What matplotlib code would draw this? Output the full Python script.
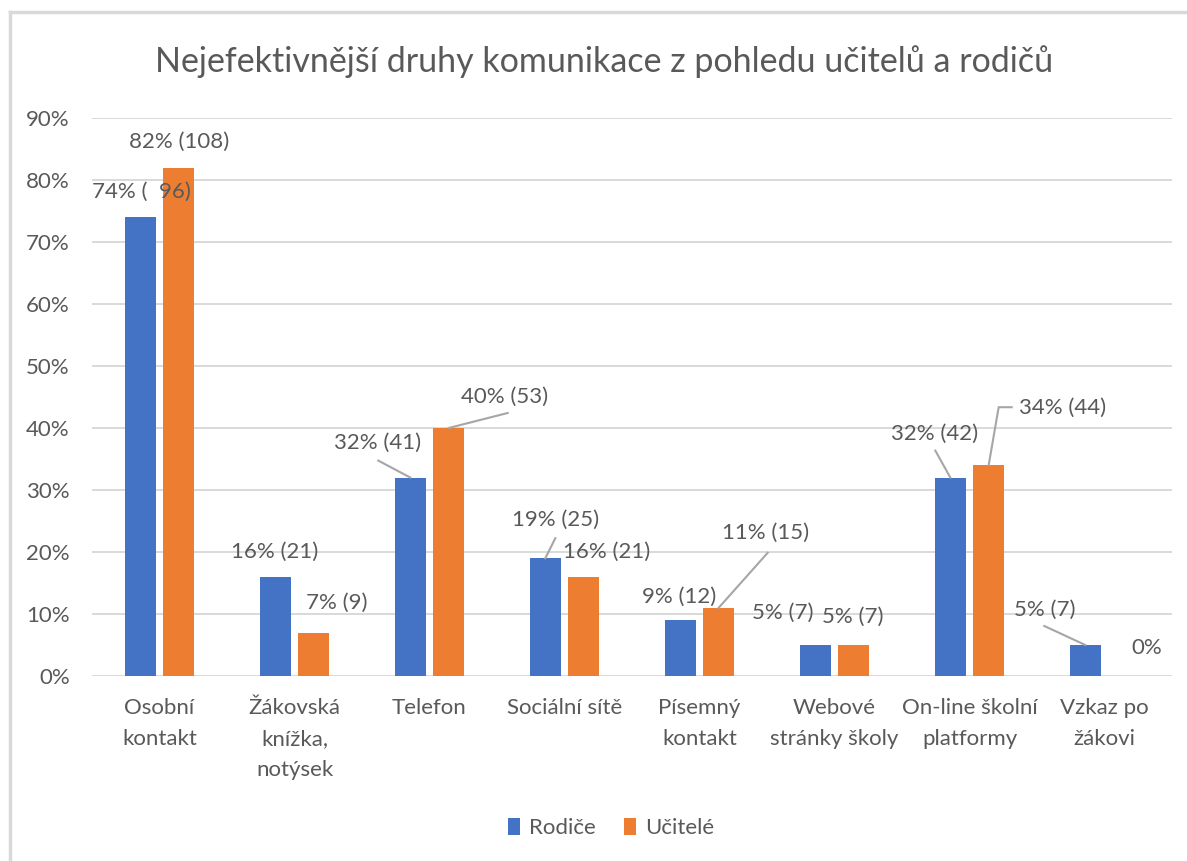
import matplotlib
matplotlib.use("Agg")
import matplotlib.pyplot as plt
import numpy as np
from matplotlib.lines import Line2D

plt.rcParams['font.family'] = ['Lato', 'DejaVu Sans']

# data
categories = ['Osobní\nkontakt', 'Žákovská\nknížka,\nnotýsek', 'Telefon', 'Sociální sítě',
              'Písemný\nkontakt', 'Webové\nstránky školy', 'On-line školní\nplatformy', 'Vzkaz po\nžákovi']
rodice_pct = [74, 16, 32, 19, 9, 5, 32, 5]
rodice_n = [96, 21, 41, 25, 12, 7, 42, 7]
ucitele_pct = [82, 7, 40, 16, 11, 5, 34, 0]
ucitele_n = [108, 9, 53, 21, 15, 7, 44, 0]
series_names = ['Rodiče', 'Učitelé']

# label placement (pixel offsets from bar top) and leader lines
rodice_off = [(1, 25), (-1, 25), (-33, 35), (10, 38), (-1, 23), (-33, 32), (-16, 44), (-41, 35)]
rodice_lead = {2: [(0, 0), (-32, 17)], 3: [(0, 0), (10, 20)], 6: [(0, 0), (-15, 27)],
               7: [(0, 0), (-41, 19)]}
ucitele_off = [(0, 26), (23, 30), (56, 31), (23, 25), (47, 75), (-1, 28), (74, 57), (23, 28)]
ucitele_lead = {2: [(0, 0), (59, 15)], 4: [(0, 0), (49, 55)], 6: [(0, 0), (10, 58), (23, 58)]}

BLUE = '#4472C4'
ORANGE = '#ED7D31'
TXT = '#595959'
GRID = '#D9D9D9'
LEAD = '#A6A6A6'

W, H = 1187, 861
fig = plt.figure(figsize=(W / 100, H / 100), dpi=100)
ax = fig.add_axes([92 / W, 1 - 676 / H, 1080 / W, 558 / H])

x = np.arange(len(categories))
bw = 0.225
off = 0.142
ax.bar(x - off, np.array(rodice_pct) / 100, bw, color=BLUE, label=series_names[0], zorder=3)
ax.bar(x + off, np.array(ucitele_pct) / 100, bw, color=ORANGE, label=series_names[1], zorder=3)

ax.set_xlim(-0.5, len(categories) - 0.5)
ax.set_ylim(0, 0.9)
ax.set_yticks(np.arange(0, 0.91, 0.1))
ax.set_yticklabels([f'{int(round(t * 100))}%' for t in np.arange(0, 0.91, 0.1)])
ax.yaxis.grid(True, color=GRID, lw=1.4, zorder=0)
ax.set_xticks(x)
ax.set_xticklabels(categories, linespacing=1.68)
ax.tick_params(axis='both', length=0, colors=TXT, labelsize=16)
ax.tick_params(axis='y', pad=16)
ax.tick_params(axis='x', pad=16)
for s in ax.spines.values():
    s.set_visible(False)


def label_bars(xs, pcts, ns, offs, leads, zero_plain=True):
    for i, (xx, p, n) in enumerate(zip(xs, pcts, ns)):
        txt = '0%' if (p == 0 and zero_plain) else (f'{p}% (  {n})' if n == 96 else f'{p}% ({n})')
        base = ax.transData.transform((xx, p / 100))
        dx, dy = offs[i]
        ax.annotate(txt, xy=(xx, p / 100), xytext=(dx, dy), textcoords='offset pixels',
                    ha='center', va='center', fontsize=16, color=TXT, zorder=5)
        if i in leads:
            pts = np.array([base + np.array(pt) for pt in leads[i]])
            dpts = ax.transData.inverted().transform(pts)
            ax.plot(dpts[:, 0], dpts[:, 1], color=LEAD, lw=1.5, zorder=4, clip_on=False)


label_bars(x - off, rodice_pct, rodice_n, rodice_off, rodice_lead)
label_bars(x + off, ucitele_pct, ucitele_n, ucitele_off, ucitele_lead)

fig.text(604 / W, 1 - 62 / H, 'Nejefektivnější druhy komunikace z pohledu učitelů a rodičů',
         ha='center', va='center', fontsize=24.5, color=TXT)

leg = fig.legend(loc='center', bbox_to_anchor=(611 / W, 1 - 828 / H), ncol=2, frameon=False,
                 fontsize=16, handlelength=0.55, handleheight=0.85, handletextpad=0.4,
                 columnspacing=1.3)
for t in leg.get_texts():
    t.set_color(TXT)

# chart frame
fig.add_artist(Line2D([10 / W, 10 / W], [0, 1 - 12 / H], color=GRID, lw=2.5))
fig.add_artist(Line2D([10 / W, 1], [1 - 12 / H, 1 - 12 / H], color=GRID, lw=2.5))

fig.savefig('out.png', dpi=100, facecolor='white')
